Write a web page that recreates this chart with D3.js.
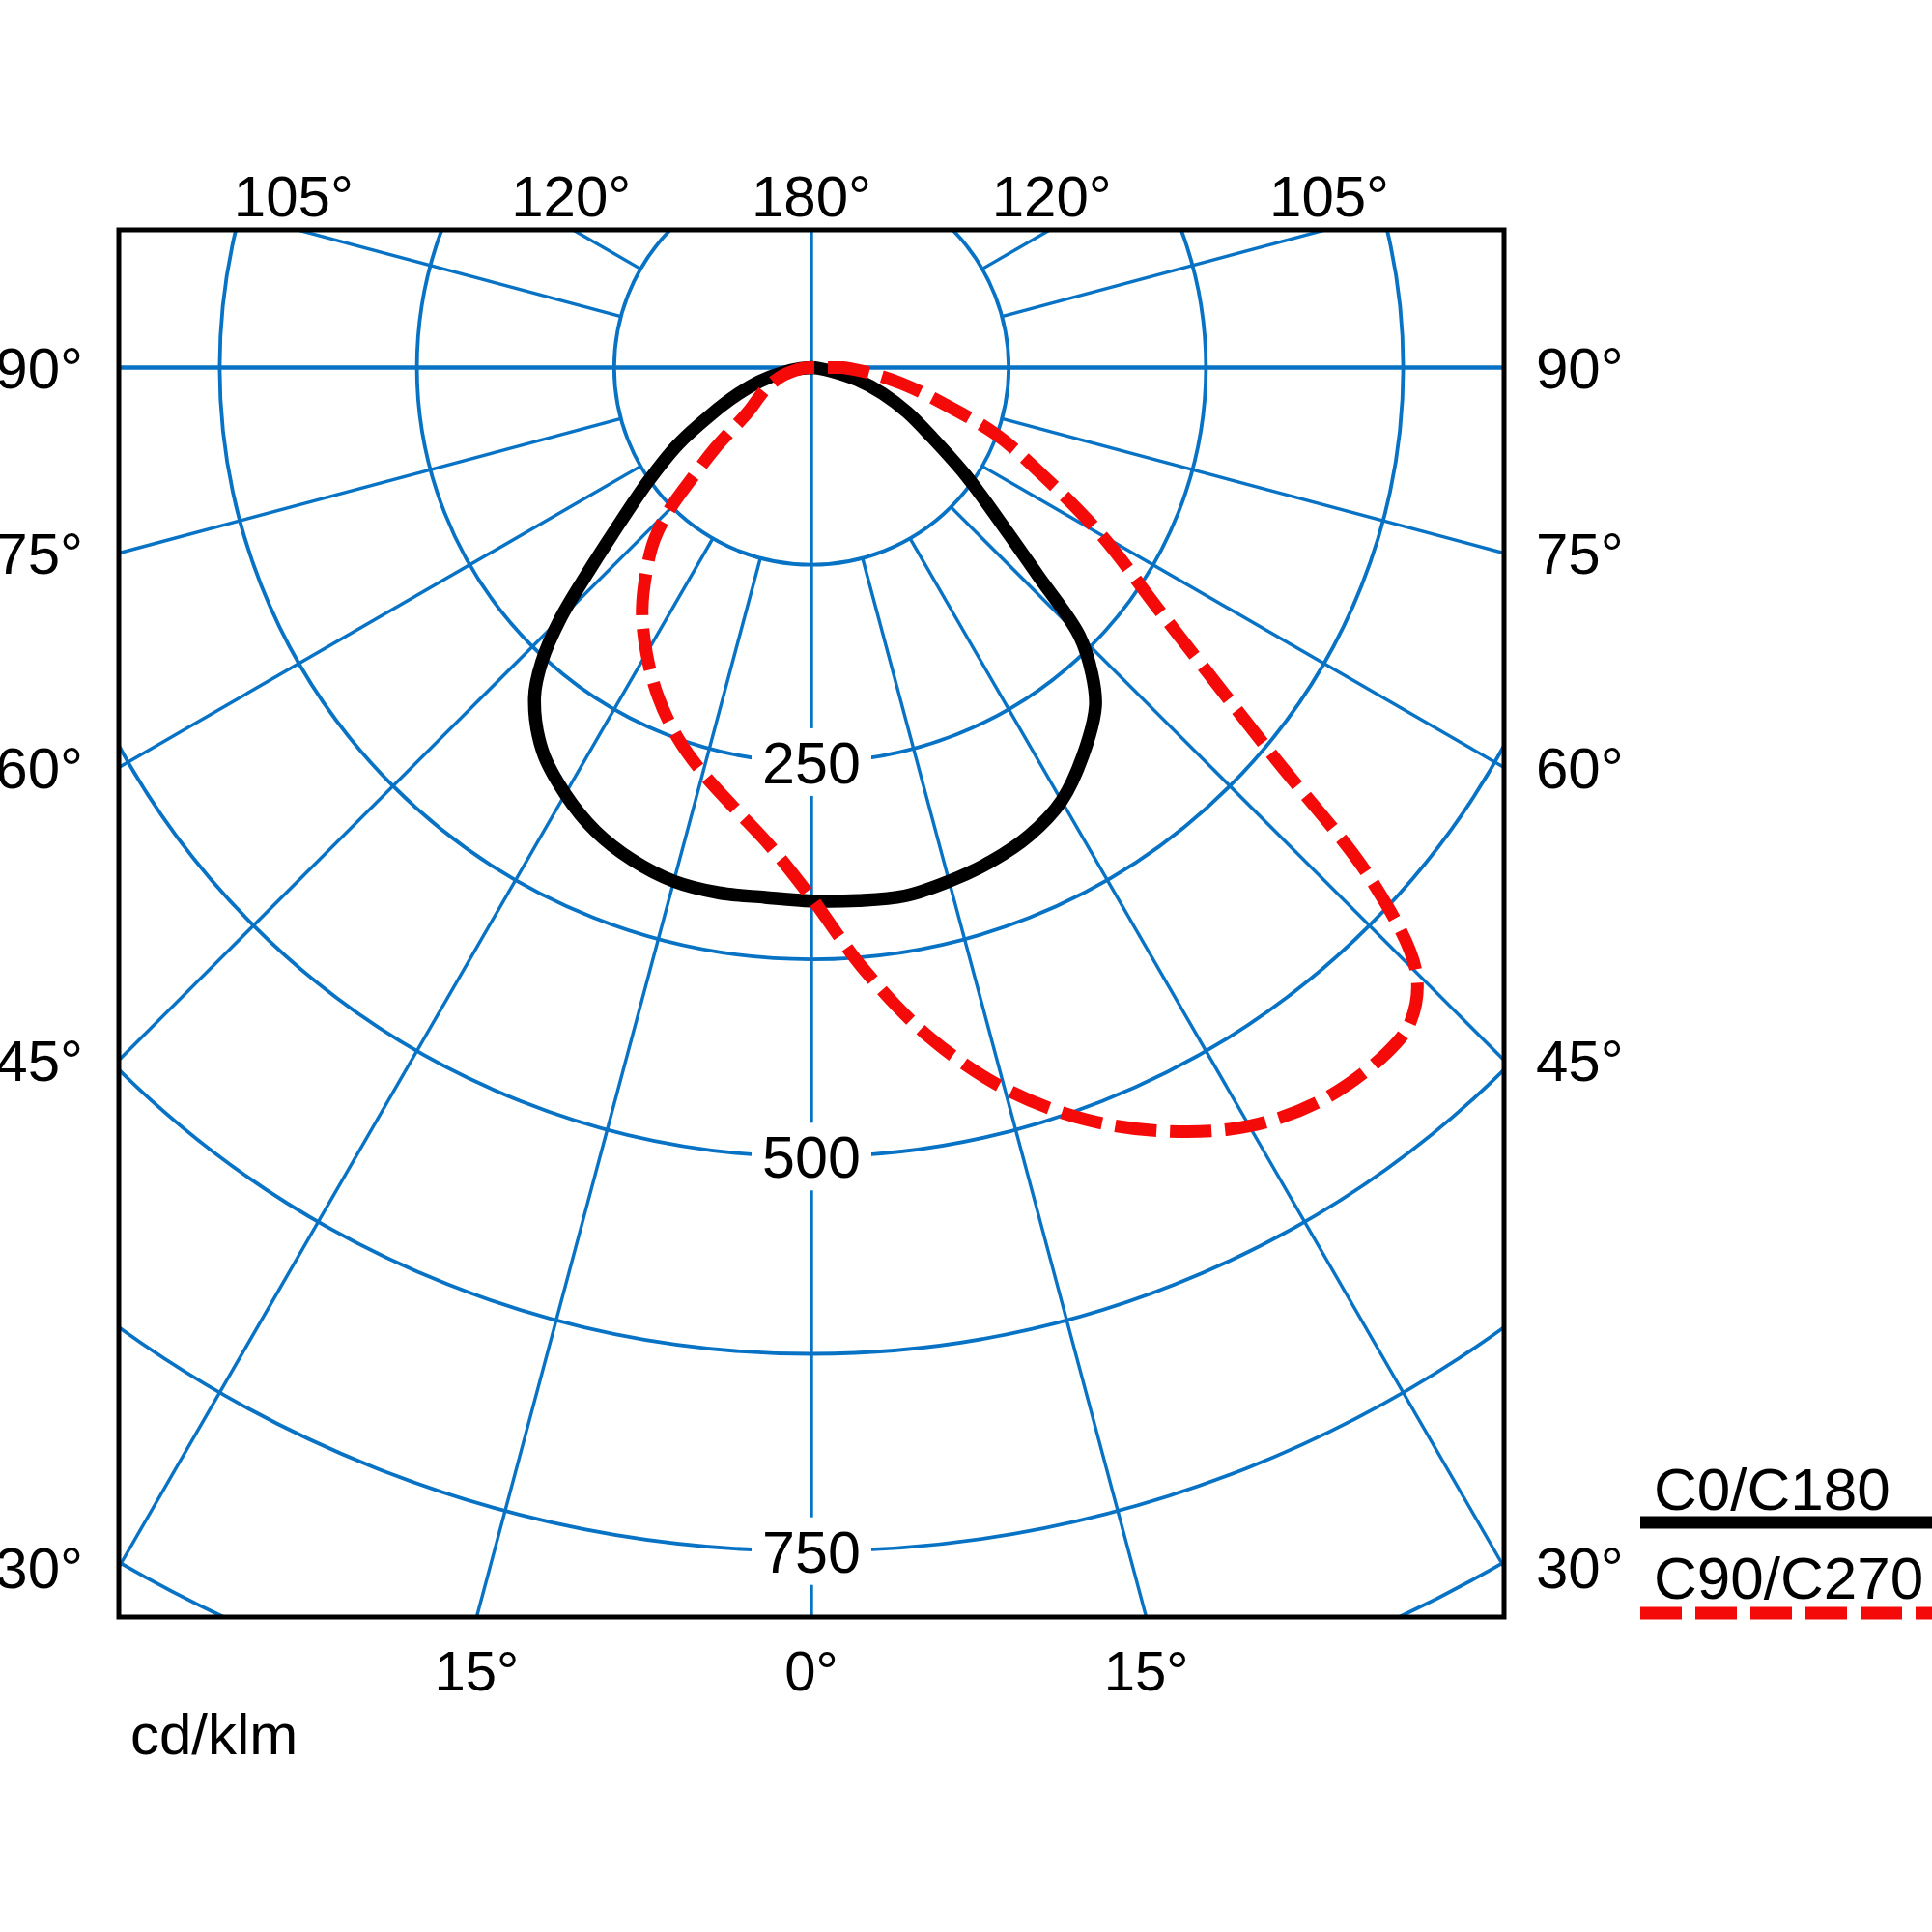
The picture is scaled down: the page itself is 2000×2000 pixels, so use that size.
<!DOCTYPE html>
<html>
<head>
<meta charset="utf-8">
<script src="https://cdn.jsdelivr.net/npm/d3@7"></script>
<style>
  body { margin: 0; background: #fff; }
  text { font-family: "Liberation Sans", Arial, sans-serif; fill: #000; }
</style>
</head>
<body>
<div id="chart"></div>
<script>
// gamma angles (deg from nadir) and intensities in cd/klm
var gamma = [0, 5, 10, 15, 20, 25, 30, 35, 40, 42.5, 45, 47.5, 50, 55, 60, 65, 70, 75, 80, 85, 90];
var c0   = [338, 339, 340, 337, 333, 327, 317, 300, 280, 263, 240, 194, 162, 120, 88, 67, 48, 30, 13, 4, 0];
var c180 = [338, 337, 338, 337, 332, 324, 312, 297, 273, 253, 225, 192, 165, 127, 98, 70, 50, 34, 19, 7, 0];
var c90  = [336, 383, 431, 473, 507, 534, 555, 566, 567, 562, 542, 482, 380, 270, 212, 162, 125, 85, 58, 36, 20];
var c270 = [336, 304, 283, 266, 249, 230, 209, 187, 161, 147, 127, 100, 80, 49, 39, 32, 25, 18, 11, 5, 0];

var ringValues = d3.range(125, 1001, 125);
var ringLabels = [250, 500, 750];
var spokeAngles = [15, 30, 45, 60, 75, 105, 120, 135, 150, 165];
var topAngles = [105, 120, 180, 120, 105];
var topSides = [-1, -1, 0, 1, 1];
var sideAngles = [90, 75, 60, 45, 30];
var bottomAngles = [15, 0, 15];
var bottomSides = [-1, 0, 1];
var legendNames = ["C0/C180", "C90/C270"];

var W = 2000, H = 2000;
var box = {x0: 123, x1: 1557, y0: 238, y1: 1674};
var cx = (box.x0 + box.x1) / 2;
var cy = 380.5;
var blue = "#0872c4";
var red = "#f50a0a";

var r = d3.scaleLinear().domain([0, 125]).range([0, 204.2]);
var rad = function(d) { return d * Math.PI / 180; };

var svg = d3.select("#chart").append("svg").attr("width", W).attr("height", H);
svg.append("rect").attr("width", W).attr("height", H).style("fill", "white");

svg.append("clipPath").attr("id", "boxclip")
  .append("rect")
  .attr("x", box.x0).attr("y", box.y0)
  .attr("width", box.x1 - box.x0).attr("height", box.y1 - box.y0);

var grid = svg.append("g").attr("clip-path", "url(#boxclip)");
var g = grid.append("g").attr("transform", "translate(" + cx + "," + cy + ")");

// rings
g.selectAll("circle.ring").data(ringValues).enter()
  .append("circle")
  .attr("class", "ring")
  .attr("r", function(d) { return r(d); })
  .style("fill", "none")
  .style("stroke", blue)
  .style("stroke-width", 3.8);

// spokes, both halves, starting at the first ring
var spokes = [];
for (var s of [-1, 1]) {
  for (var a of spokeAngles) spokes.push({a: a, s: s});
}
g.selectAll("line.spoke").data(spokes).enter()
  .append("line")
  .attr("x1", function(d) { return d.s * r(125) * Math.sin(rad(d.a)); })
  .attr("y1", function(d) { return r(125) * Math.cos(rad(d.a)); })
  .attr("x2", function(d) { return d.s * r(1400) * Math.sin(rad(d.a)); })
  .attr("y2", function(d) { return r(1400) * Math.cos(rad(d.a)); })
  .style("stroke", blue)
  .style("stroke-width", 3.4);

// 0-180 and 90-90 axes through the centre
g.append("line")
  .attr("x1", 0).attr("y1", box.y0 - cy).attr("x2", 0).attr("y2", box.y1 - cy)
  .style("stroke", blue).style("stroke-width", 3.4);
g.append("line")
  .attr("x1", box.x0 - cx).attr("y1", 0).attr("x2", box.x1 - cx).attr("y2", 0)
  .style("stroke", blue).style("stroke-width", 4.6);

// ring value labels on the nadir axis
var rl = g.selectAll("g.rl").data(ringLabels).enter()
  .append("g")
  .attr("transform", function(d) { return "translate(0," + r(d) + ")"; });
rl.append("rect")
  .attr("x", -62).attr("y", -35).attr("width", 124).attr("height", 70)
  .style("fill", "white");
rl.append("text")
  .attr("text-anchor", "middle")
  .attr("dy", "0.36em")
  .style("font-size", "61px")
  .text(function(d) { return d; });

// curves: left half from 90 down to 0, then right half from 0 up to 90
var curveLine = d3.lineRadial()
  .angle(function(d) { return d.s > 0 ? Math.PI - rad(d.g) : Math.PI + rad(d.g); })
  .radius(function(d) { return r(d.v); })
  .curve(d3.curveCatmullRom.alpha(0.5));

function halves(left, right) {
  var pts = [];
  for (var i = gamma.length - 1; i >= 0; i--) pts.push({g: gamma[i], v: left[i], s: -1});
  for (var j = 1; j < gamma.length; j++) pts.push({g: gamma[j], v: right[j], s: 1});
  return pts;
}

var curves = svg.append("g").attr("transform", "translate(" + cx + "," + cy + ")");
curves.append("path")
  .attr("d", curveLine(halves(c180, c0)) + "Z")
  .style("fill", "none")
  .style("stroke", "black")
  .style("stroke-width", 13.5)
  .style("stroke-linejoin", "round");
curves.append("path")
  .attr("d", curveLine(halves(c270, c90)) + "Z")
  .style("fill", "none")
  .style("stroke", red)
  .style("stroke-width", 13)
  .style("stroke-dasharray", "43,14");

// frame
svg.append("rect")
  .attr("x", box.x0).attr("y", box.y0)
  .attr("width", box.x1 - box.x0).attr("height", box.y1 - box.y0)
  .style("fill", "none")
  .style("stroke", "black")
  .style("stroke-width", 5);

// angle labels
var dyTop = cy - box.y0;
svg.selectAll("text.top").data(topAngles).enter()
  .append("text")
  .attr("x", function(d, i) { return cx + topSides[i] * dyTop * Math.tan(rad(180 - d)) * 1.008; })
  .attr("y", 224)
  .attr("text-anchor", "middle")
  .style("font-size", "60px")
  .text(function(d) { return d + "°"; });

var halfW = box.x1 - cx;
var sideY = function(d) { return cy + (d == 90 ? 0 : halfW / Math.tan(rad(d))); };
svg.selectAll("text.left").data(sideAngles).enter()
  .append("text")
  .attr("x", box.x0 - 37)
  .attr("y", sideY)
  .attr("dy", "0.36em")
  .attr("text-anchor", "end")
  .style("font-size", "60px")
  .text(function(d) { return d + "°"; });
svg.selectAll("text.right").data(sideAngles).enter()
  .append("text")
  .attr("x", box.x1 + 33)
  .attr("y", sideY)
  .attr("dy", "0.36em")
  .attr("text-anchor", "start")
  .style("font-size", "60px")
  .text(function(d) { return d + "°"; });

var dyBottom = box.y1 - cy;
svg.selectAll("text.bottom").data(bottomAngles).enter()
  .append("text")
  .attr("x", function(d, i) { return cx + bottomSides[i] * dyBottom * Math.tan(rad(d)); })
  .attr("y", 1750)
  .attr("text-anchor", "middle")
  .style("font-size", "58px")
  .text(function(d) { return d + "°"; });

svg.append("text")
  .attr("x", 135).attr("y", 1816)
  .style("font-size", "60px")
  .text("cd/klm");

// legend
var leg = svg.selectAll("g.leg").data(legendNames).enter()
  .append("g")
  .attr("transform", function(d, i) { return "translate(1698," + (1563 + i * 92) + ")"; });
leg.append("text")
  .attr("x", 14).attr("y", 0)
  .style("font-size", "62px")
  .text(function(d) { return d; });
leg.append("line")
  .attr("x1", 0).attr("x2", 310)
  .attr("y1", function(d, i) { return i == 0 ? 13 : 15; })
  .attr("y2", function(d, i) { return i == 0 ? 13 : 15; })
  .style("stroke", function(d, i) { return i == 0 ? "black" : red; })
  .style("stroke-width", 13)
  .style("stroke-dasharray", function(d, i) { return i == 0 ? null : "43,14"; });
</script>
</body>
</html>
